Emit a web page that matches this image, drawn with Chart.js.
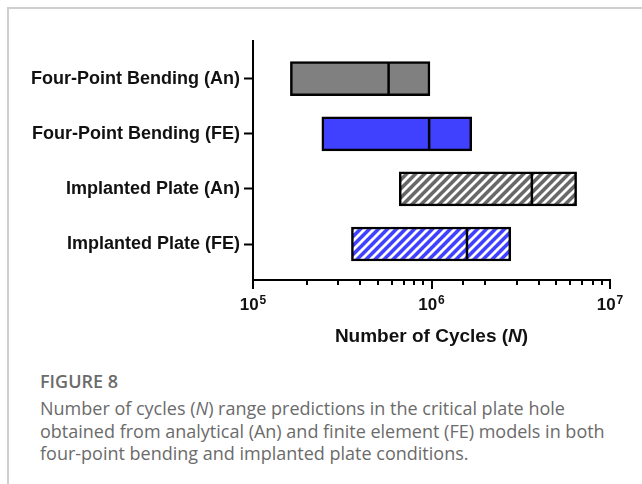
<!DOCTYPE html>
<html>
<head>
<meta charset="utf-8">
<script src="https://cdn.jsdelivr.net/npm/chart.js@4/dist/chart.umd.min.js"></script>
<style>
  html, body { margin: 0; padding: 0; background: #fff; }
  body { width: 642px; height: 484px; position: relative; overflow: hidden; }
  #frame { position: absolute; left: 7px; top: 7px; width: 700px; height: 600px;
           border-left: 2px solid #cfcfcf; border-top: 2px solid #cfcfcf; }
  #chart { position: absolute; left: 0; top: 0; }
  .cap { position: absolute; left: 40px; font-family: "Open Sans", sans-serif; color: #6b6b6b; }
  #figno { top: 370px; font-size: 18px; line-height: 23px; font-weight: 600; }
  #figtext { top: 397px; font-size: 18px; line-height: 22.5px; width: 600px; }
</style>
</head>
<body>
<div id="frame"></div>
<canvas id="chart" width="642" height="360"></canvas>
<div class="cap" id="figno">FIGURE 8</div>
<div class="cap" id="figtext">Number of cycles (<i>N</i>) range predictions in the critical plate hole<br>obtained from analytical (An) and finite element (FE) models in both<br>four-point bending and implanted plate conditions.</div>
<script>
const categories = ['Four-Point Bending (An)', 'Four-Point Bending (FE)', 'Implanted Plate (An)', 'Implanted Plate (FE)'];
const lowValues = [1.62e5, 2.43e5, 6.6e5, 3.56e5];
const highValues = [9.8e5, 1.68e6, 6.5e6, 2.78e6];
const medianValues = [5.75e5, 9.7e5, 3.65e6, 1.58e6];
const xTickExponents = [5, 6, 7];

function hatch(dark) {
  const c = document.createElement('canvas');
  c.width = 9; c.height = 9;
  const g = c.getContext('2d');
  g.fillStyle = dark;
  g.fillRect(0, 0, 9, 9);
  g.strokeStyle = '#ffffff';
  g.lineWidth = 2.8;
  g.beginPath();
  g.moveTo(-2, 11); g.lineTo(11, -2);
  g.moveTo(-2, 2); g.lineTo(2, -2);
  g.moveTo(7, 11); g.lineTo(11, 7);
  g.stroke();
  return g.createPattern(c, 'repeat');
}

const ctx = document.getElementById('chart').getContext('2d');
const fills = ['#808080', '#4040ff', hatch('#686868'), hatch('#4040ff')];

const medianLines = {
  id: 'medianLines',
  afterDatasetsDraw(chart) {
    const xs = chart.scales.x, ys = chart.scales.y;
    const c = chart.ctx;
    c.save();
    c.strokeStyle = '#000';
    c.lineWidth = 2.5;
    medianValues.forEach((m, i) => {
      const x = xs.getPixelForValue(m);
      const y = ys.getPixelForValue(i);
      c.beginPath();
      c.moveTo(x, y - 16);
      c.lineTo(x, y + 16);
      c.stroke();
    });
    c.restore();
  }
};

const xAxisExtras = {
  id: 'xAxisExtras',
  afterDraw(chart) {
    const xs = chart.scales.x;
    const c = chart.ctx;
    const base = chart.chartArea.bottom;
    c.save();
    c.strokeStyle = '#000';
    c.lineWidth = 2;
    xs.ticks.forEach(t => {
      const e = Math.log10(t.value);
      const major = Math.abs(e - Math.round(e)) < 1e-6;
      const x = Math.round(xs.getPixelForValue(t.value));
      c.beginPath();
      c.moveTo(x, base - 1);
      c.lineTo(x, base + (major ? 9 : 5));
      c.stroke();
    });
    // tick labels 10^n
    c.fillStyle = '#111';
    c.textBaseline = 'alphabetic';
    xTickExponents.forEach(n => {
      const x = xs.getPixelForValue(Math.pow(10, n));
      c.font = 'bold 17px "Liberation Sans", Arial, sans-serif';
      const w1 = c.measureText('10').width;
      c.font = 'bold 12px "Liberation Sans", Arial, sans-serif';
      const w2 = c.measureText(String(n)).width;
      const start = x - (w1 + w2 + 1) / 2;
      c.font = 'bold 17px "Liberation Sans", Arial, sans-serif';
      c.fillText('10', start, 310);
      c.font = 'bold 12px "Liberation Sans", Arial, sans-serif';
      c.fillText(String(n), start + w1 + 1, 304);
    });
    // axis title with italic N
    const parts = [
      ['Number of Cycles (', 'bold 19px "Liberation Sans", Arial, sans-serif'],
      ['N', 'italic bold 19px "Liberation Sans", Arial, sans-serif'],
      [')', 'bold 19px "Liberation Sans", Arial, sans-serif']
    ];
    let total = 0;
    parts.forEach(p => { c.font = p[1]; total += c.measureText(p[0]).width; });
    let px = (chart.chartArea.left + chart.chartArea.right) / 2 - total / 2;
    parts.forEach(p => {
      c.font = p[1];
      c.fillText(p[0], px, 342);
      px += c.measureText(p[0]).width;
    });
    c.restore();
  }
};

new Chart(ctx, {
  type: 'bar',
  data: {
    datasets: [{
      data: categories.map((c, i) => ({ x: [lowValues[i], highValues[i]], y: i })),
      backgroundColor: fills,
      borderColor: '#000',
      borderWidth: 2.5,
      borderSkipped: false,
      barThickness: 34
    }]
  },
  options: {
    indexAxis: 'y',
    responsive: false,
    animation: false,
    devicePixelRatio: 1,
    layout: { padding: { top: 41, right: 32, left: 0, bottom: 0 } },
    plugins: { legend: { display: false }, tooltip: { enabled: false } },
    scales: {
      x: {
        type: 'logarithmic',
        min: 1e5,
        max: 1e7,
        grid: { display: false },
        ticks: { display: false },
        border: { display: true, color: '#000', width: 2 },
        afterFit: s => { s.height = 80; }
      },
      y: {
        type: 'linear',
        reverse: true,
        offset: false,
        min: -0.684,
        max: 3.653,
        afterBuildTicks: s => { s.ticks = categories.map((c, i) => ({ value: i })); },
        ticks: {
          autoSkip: false,
          padding: 4,
          color: '#111',
          font: { family: '"Liberation Sans", Arial, sans-serif', size: 18, weight: 'bold' },
          callback: v => categories[v]
        },
        grid: { display: true, offset: false, drawOnChartArea: false, tickLength: 9, tickWidth: 2, tickColor: '#000' },
        border: { display: true, color: '#000', width: 2 },
        afterFit: s => { s.width = 253; }
      }
    }
  },
  plugins: [medianLines, xAxisExtras]
});
</script>
</body>
</html>
